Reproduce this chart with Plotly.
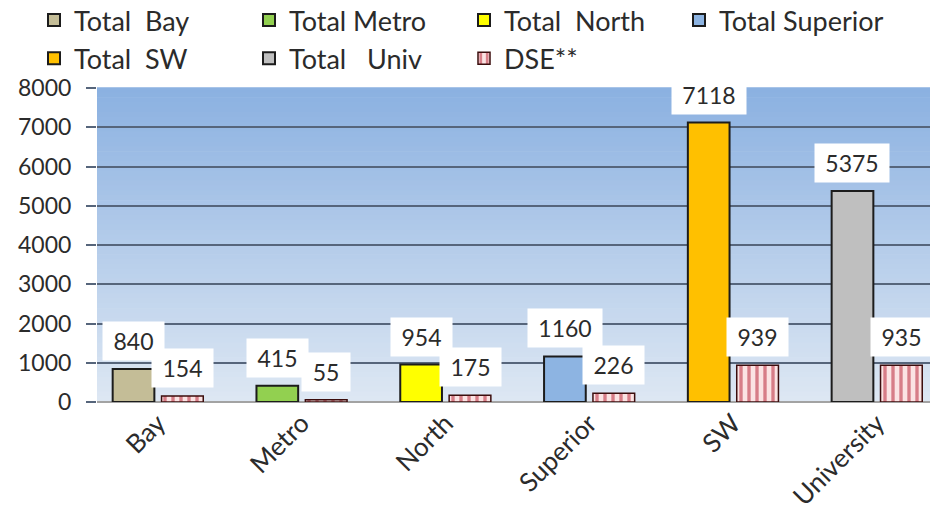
import plotly.graph_objects as go

# Regions (x-axis categories)
regions = ["Bay", "Metro", "North", "Superior", "SW", "University"]

# Total per region: one series per region, shown only in its own category
total_names = ["Total  Bay", "Total Metro", "Total  North", "Total Superior", "Total  SW", "Total   Univ"]
total_values = [840, 415, 954, 1160, 7118, 5375]
total_colors = ["#c4bd97", "#92d050", "#ffff00", "#8db4e2", "#ffc000", "#bfbfbf"]

# DSE** counts per region
dse_name = "DSE**"
dse_values = [154, 55, 175, 226, 939, 935]

# Y axis ticks
y_ticks = [0, 1000, 2000, 3000, 4000, 5000, 6000, 7000, 8000]

FONT = "Lato"
TXT = "#2b2b2b"
GRID = "#56657b"

W, H = 930, 512
M_L, M_R, M_T, M_B = 97, 0, 88, 110
PLOT_W = W - M_L - M_R
PLOT_H = H - M_T - M_B

BAR_W = 0.29
TOTAL_OFF = -0.315
DSE_OFF = 0.025

fig = go.Figure()

for i, (name, val, col) in enumerate(zip(total_names, total_values, total_colors)):
    fig.add_trace(go.Bar(
        x=[regions[i]], y=[val], name=name,
        width=BAR_W, offset=TOTAL_OFF,
        marker=dict(color=col, line=dict(color="#1c1c1c", width=2)),
    ))

fig.add_trace(go.Bar(
    x=regions, y=dse_values, name=dse_name,
    width=BAR_W, offset=DSE_OFF,
    marker=dict(
        color="#fbe3e3",
        line=dict(color="#3b0d0d", width=1.5),
        pattern=dict(shape="|", fgcolor="#b3172b", bgcolor="#fbe3e3",
                     size=8, solidity=0.42),
    ),
))

# Value labels in white boxes above each bar
def add_label(xpos, val):
    txt = str(val)
    fig.add_annotation(
        x=xpos, y=val, xref="x", yref="y", text=txt,
        showarrow=False, yanchor="bottom", yshift=8,
        bgcolor="white", borderpad=5, width=len(txt) * 13 + 12,
        font=dict(family=FONT, size=23, color=TXT),
    )

for i, val in enumerate(total_values):
    add_label(i + TOTAL_OFF + BAR_W / 2, val)
for i, val in enumerate(dse_values):
    add_label(i + DSE_OFF + BAR_W / 2, val)

# Vertical gradient behind the plot area
top_rgb = (139, 177, 225)
bot_rgb = (221, 231, 243)
n_strips = 64
for k in range(n_strips):
    t = k / (n_strips - 1)
    r, g, b = (round(top_rgb[j] + (bot_rgb[j] - top_rgb[j]) * t) for j in range(3))
    fig.add_shape(
        type="rect", xref="x domain", yref="y domain",
        x0=0, x1=1, y0=1 - (k + 1) / n_strips, y1=1 - k / n_strips + 0.002,
        fillcolor=f"rgb({r},{g},{b})", line=dict(width=0), layer="below",
    )

fig.update_layout(
    width=W, height=H,
    margin=dict(l=M_L, r=M_R, t=M_T, b=M_B, autoexpand=False),
    paper_bgcolor="white",
    plot_bgcolor="rgb(221,231,243)",
    barmode="overlay",
    showlegend=True,
    legend=dict(
        orientation="h", xref="paper", yref="paper",
        x=(34 - M_L) / PLOT_W, xanchor="left",
        y=1 + (M_T + 4) / PLOT_H, yanchor="top",
        entrywidth=170, traceorder="normal",
        font=dict(family=FONT, size=27, color=TXT),
        bgcolor="rgba(0,0,0,0)", itemclick=False,
    ),
    font=dict(family=FONT, color=TXT),
)

fig.update_xaxes(
    type="category", categoryorder="array", categoryarray=regions,
    range=[-0.424, 5.369], tickangle=-45,
    tickfont=dict(family=FONT, size=26, color=TXT),
    showgrid=False, showline=False, ticks="",
)
fig.update_yaxes(
    range=[0, 8000], tickvals=y_ticks,
    tickfont=dict(family=FONT, size=23, color=TXT),
    showgrid=True, gridcolor=GRID, gridwidth=2,
    zeroline=True, zerolinecolor="#a3a3a3", zerolinewidth=2,
    ticks="outside", ticklen=10, tickcolor=GRID, tickwidth=2,
    ticklabelstandoff=10, showline=False,
)

fig.write_html("out.html")
